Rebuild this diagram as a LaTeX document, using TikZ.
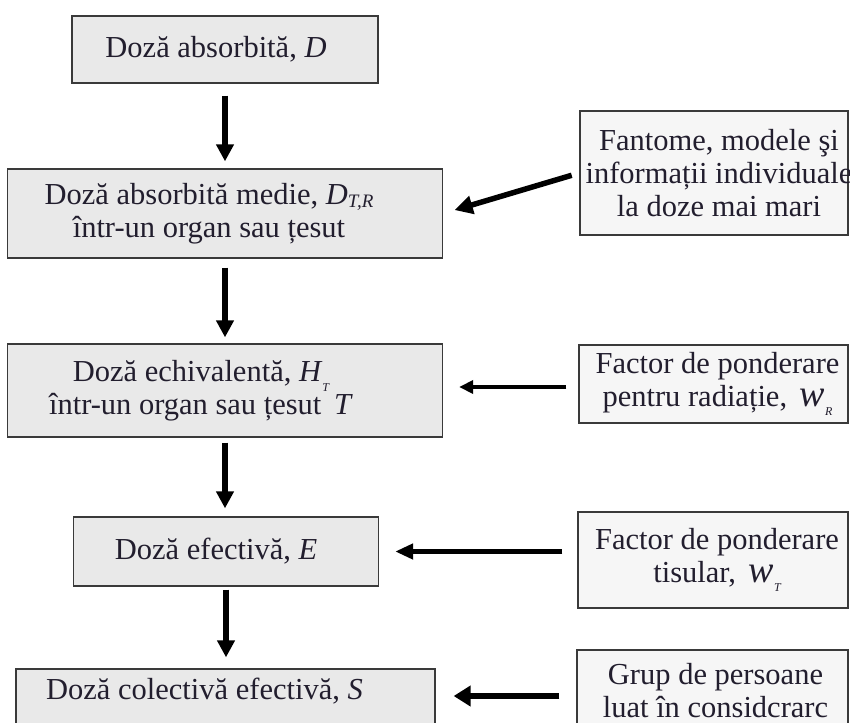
\documentclass[tikz,border=0pt]{standalone}
\usepackage{fontspec}
\setmainfont{Liberation Serif}
\usetikzlibrary{arrows.meta,calc}
\definecolor{ink}{RGB}{34,30,46}
\definecolor{mainfill}{RGB}{233,233,233}
\definecolor{sidefill}{RGB}{246,246,246}
\definecolor{edge}{RGB}{58,58,58}
% subscripts: a large one (D_{T,R}) and a small lowered one (H_T, w_R, w_T)
\newcommand\subbig[1]{\raisebox{-0.12em}{\fontsize{19}{19}\selectfont\itshape #1}}
\newcommand\subsmall[1]{\raisebox{-0.32em}{\fontsize{12}{12}\selectfont\itshape #1}}
% the wide italic w of the weighting factors
\newcommand\wfactor{{\fontsize{38}{38}\selectfont\itshape w}}
\begin{document}
\begin{tikzpicture}[x=1pt,y=-1pt,
  box/.style={draw=edge, line width=1.3pt, inner sep=0pt, anchor=center},
  mainbox/.style={box, fill=mainfill},
  sidebox/.style={box, fill=sidefill},
  txt/.style={text=ink, align=center, font=\fontsize{30.5}{33}\selectfont, inner sep=0pt},
  flow/.style={line width=5.5pt, -{Triangle[length=17pt,width=17pt]}},
  thinflow/.style={line width=3.5pt, -{Triangle[length=14pt,width=13pt]}}]
\useasboundingbox (0,0) rectangle (850,722);

% main chain
\node[mainbox, minimum width=306pt, minimum height=67pt] (b1) at (225,49.5) {};
\node[txt] (t1) at ([xshift=-9pt]b1.center) {Doză absorbită, \textit{D}};

\node[mainbox, minimum width=435pt, minimum height=89pt] (b2) at (225,213.5) {};
\node[txt] (t2) at ([xshift=-16pt]b2.center)
  {Doză absorbită medie, \textit{D}\subbig{T,R}\\într-un organ sau țesut};

\node[mainbox, minimum width=435pt, minimum height=93pt] (b3) at (225,390.5) {};
\node[txt] (t3) at ([xshift=-24pt]b3.center)
  {Doză echivalentă, \textit{H}\subsmall{T}\\într-un organ sau țesut\, \textit{T}};

\node[mainbox, minimum width=305pt, minimum height=69pt] (b4) at (226,551.5) {};
\node[txt] (t4) at ([xshift=-10pt]b4.center) {Doză efectivă, \textit{E}};

\node[mainbox, minimum width=419pt, minimum height=90pt] (b5) at (225.5,714) {};
\node[txt, anchor=base] (t5) at ($(b5.north)+(-21,31)$) {Doză colectivă efectivă, \textit{S}};

% side inputs
\node[sidebox, minimum width=268pt, minimum height=124pt] (s1) at (714,173) {};
\node[txt] (u1) at ([xshift=5pt]s1.center) {Fantome, modele şi\\informații individuale\\la doze mai mari};

\node[sidebox, minimum width=269pt, minimum height=78pt] (s2) at (713.5,384) {};
\node[txt] (u2) at ([xshift=4pt]s2.center) {Factor de ponderare\\pentru radiație, \,\wfactor\subsmall{R}};

\node[sidebox, minimum width=270pt, minimum height=96pt] (s3) at (713,560) {};
\node[txt] (u3) at ([xshift=4pt]s3.center) {Factor de ponderare\\tisular, \,\wfactor\subsmall{T}};

\node[sidebox, minimum width=271pt, minimum height=84pt] (s4) at (712.5,692) {};
\node[txt] (u4) at ([xshift=3pt,yshift=1pt]s4.center) {Grup de persoane\\luat în considcrarc};

% vertical flow
\draw[flow, shorten <=12pt, shorten >=7pt] (b1.south) -- (b1.south |- b2.north);
\draw[flow, shorten <=9pt, shorten >=6pt] (b2.south) -- (b2.south |- b3.north);
\draw[flow, shorten <=5pt, shorten >=8pt] (b3.south) -- (b3.south |- b4.north);
\draw[flow, shorten <=3pt, shorten >=11pt] (b4.south) -- (b4.south |- b5.north);

% inputs from the right
\draw[flow, -{Triangle[length=18pt,width=18pt]}, shorten <=8pt, shorten >=12pt] (s1.west) -- (b2.east);
\draw[thinflow, shorten <=12pt, shorten >=16pt] ([yshift=-3pt]s2.west) -- ([yshift=-3pt]s2.west -| b3.east);
\draw[flow, -{Triangle[length=18pt,width=15pt]}, shorten <=15pt, shorten >=16pt] (b4.east -| s3.west) -- (b4.east);
\draw[flow, -{Triangle[length=17pt,width=20pt]}, shorten <=17pt, shorten >=18pt] ([yshift=-4pt]s4.west) -- ([yshift=-4pt]s4.west -| b5.east);
\end{tikzpicture}
\end{document}
